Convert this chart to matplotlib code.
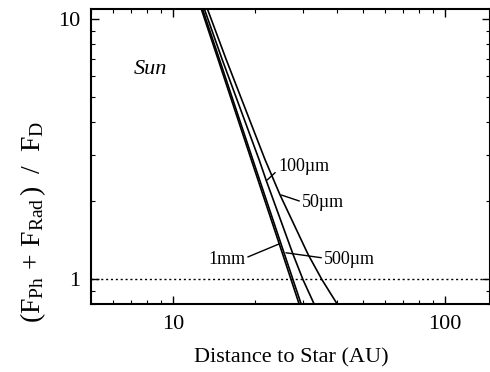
import matplotlib
matplotlib.use("Agg")
import matplotlib.pyplot as plt

plt.rcParams['font.family'] = ['Liberation Serif', 'DejaVu Serif']
plt.rcParams['mathtext.fontset'] = 'custom'
plt.rcParams['mathtext.rm'] = 'Liberation Serif'
plt.rcParams['mathtext.it'] = 'Liberation Serif:italic'

# Data: ratio (F_Ph+F_Rad)/F_D vs distance (AU)
ratio_1mm = [11.0, 7.0, 2.87, 1.24, 0.80]
dist_1mm = [12.67, 14.63, 19.39, 25.31, 29.06]
ratio_500um = [11.0, 7.0, 2.87, 1.24, 0.80]
dist_500um = [12.80, 14.80, 19.65, 25.70, 29.56]
ratio_100um = [11.0, 7.0, 2.87, 2.40, 1.24, 0.99, 0.80]
dist_100um = [13.00, 15.14, 20.72, 21.97, 27.62, 30.06, 32.99]
ratio_50um = [11.0, 7.0, 2.87, 2.10, 1.24, 0.99, 0.80]
dist_50um = [13.34, 15.66, 21.79, 24.74, 31.36, 35.30, 40.09]

fig = plt.figure(figsize=(4.9, 3.72), dpi=100)
ax = fig.add_axes([91/490, 68/372, 399/490, 295/372])
ax.set_xscale('log')
ax.set_yscale('log')
ax.set_xlim(5, 146)
ax.set_ylim(0.8, 10.9)

for d, r in [(dist_1mm, ratio_1mm), (dist_500um, ratio_500um),
             (dist_100um, ratio_100um), (dist_50um, ratio_50um)]:
    ax.plot(d, r, color='black', lw=1.2)

ax.axhline(1.0, color='black', lw=1.0, linestyle=(0, (1.5, 2.0)))

ap = dict(arrowstyle='-', color='black', lw=1.0, shrinkA=0, shrinkB=0)
ax.annotate('100µm', xy=(22.2, 2.40), xytext=(24.3, 2.70), fontsize=13,
            ha='left', va='center', arrowprops=dict(ap, relpos=(0, 0.3)))
ax.annotate('50µm', xy=(25.0, 2.10), xytext=(29.8, 1.96), fontsize=13,
            ha='left', va='center', arrowprops=dict(ap, relpos=(0, 0.55)))
ax.annotate('500µm', xy=(26.0, 1.259), xytext=(35.9, 1.183), fontsize=13,
            ha='left', va='center', arrowprops=dict(ap, relpos=(0, 0.6)))
ax.annotate('1mm', xy=(24.6, 1.363), xytext=(18.4, 1.183), fontsize=13,
            ha='right', va='center', arrowprops=dict(ap, relpos=(1, 0.6)))

ax.text(150/490, 1 - 69/372, 'Sun', transform=fig.transFigure, fontsize=16,
        style='italic', ha='center', va='center')

ax.set_xticks([10, 100])
ax.set_xticklabels(['10', '100'])
ax.set_yticks([1, 10])
ax.set_yticklabels(['1', '10'])
ax.tick_params(which='both', direction='in', top=True, right=True, labelsize=16)
ax.tick_params(which='major', length=6, width=1.0, pad=8)
ax.tick_params(which='minor', length=3, width=0.8)
ax.yaxis.set_minor_formatter(matplotlib.ticker.NullFormatter())
ax.xaxis.set_minor_formatter(matplotlib.ticker.NullFormatter())
for s in ax.spines.values():
    s.set_linewidth(1.5)

fig.text(291/490, 1 - 358/372, 'Distance to Star (AU)', fontsize=16,
         ha='center', va='center')
fig.text(33/490, 1 - 222/372,
         r'$(\mathrm{F}_{\mathrm{Ph}}\,+\,\mathrm{F}_{\mathrm{Rad}}\,)\ \ /\ \ \mathrm{F}_{\mathrm{D}}$',
         fontsize=20, rotation=90, ha='center', va='center')

fig.savefig('out.png', dpi=100)
